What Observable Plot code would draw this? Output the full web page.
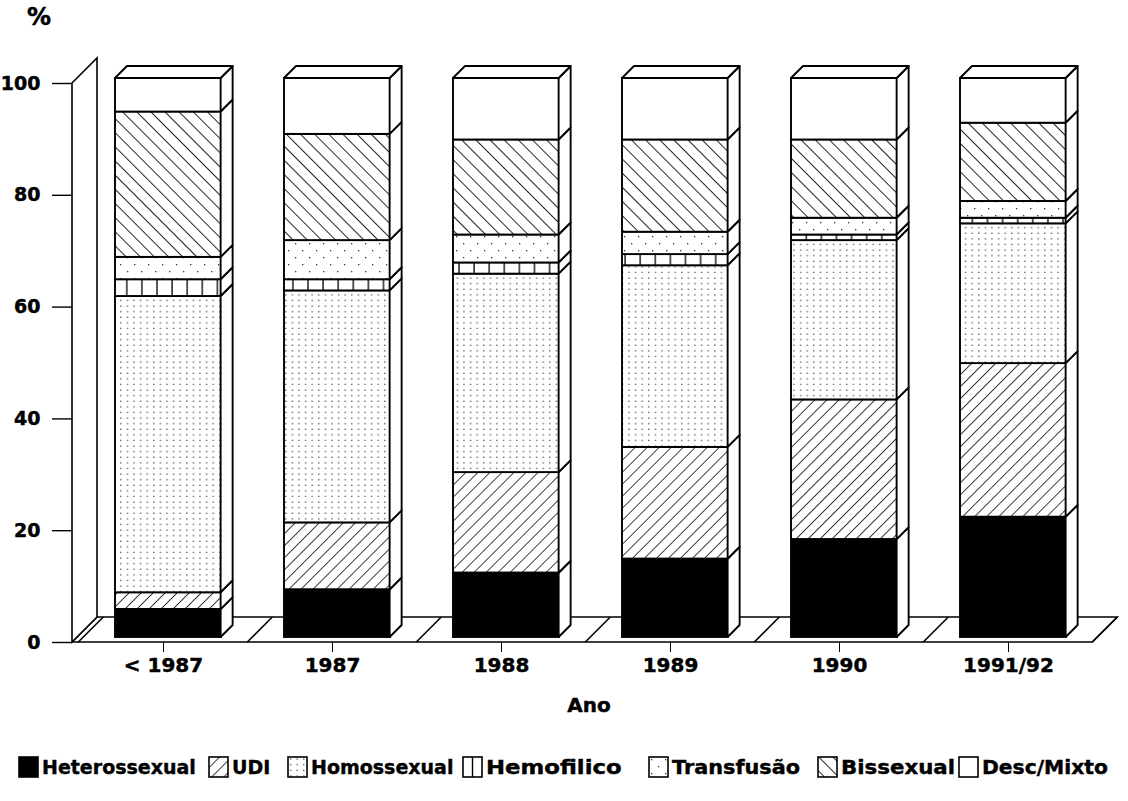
<!DOCTYPE html>
<html><head><meta charset="utf-8">
<script src="https://cdn.jsdelivr.net/npm/d3@7"></script>
<script src="https://cdn.jsdelivr.net/npm/@observablehq/plot@0.6"></script>
<style>
body{margin:0;background:#fff;font-family:"DejaVu Sans",sans-serif;font-weight:bold;color:#000;}
#wrap{position:relative;width:1128px;height:801px;overflow:hidden;}
#chart{position:absolute;left:0;top:0;}
#chart text{stroke:black;stroke-width:0.45px;}
#pct{position:absolute;left:27px;top:3px;font-size:24px;-webkit-text-stroke:0.5px black;}
#ano{position:absolute;left:0;width:1178px;text-align:center;top:693px;font-size:20px;-webkit-text-stroke:0.45px black;}
#legend{position:absolute;top:754px;left:0;width:1128px;height:30px;}
.item{position:absolute;top:0;display:flex;align-items:center;font-size:19px;height:26px;white-space:nowrap;}
.item span{-webkit-text-stroke:0.4px black;display:inline-block;transform-origin:0 50%;}
.item svg{margin-right:3px;}
</style></head><body>
<div id="wrap"><div id="chart"></div><div id="pct">%</div><div id="ano">Ano</div><div id="legend"></div></div>
<script>
const categories = ["< 1987","1987","1988","1989","1990","1991/92"];
const series = ["Heterossexual","UDI","Homossexual","Hemofilico","Transfusão","Bissexual","Desc/Mixto"];
const heterossexual = [5, 8.5, 11.5, 14, 17.5, 21.5];
const udi          = [3, 12, 18, 20, 25, 27.5];
const homossexual  = [53, 41.5, 35.5, 32.5, 28.5, 25];
const hemofilico   = [3, 2, 2, 2, 1, 1];
const transfusao   = [4, 7, 5, 4, 3, 3];
const bissexual    = [26, 19, 17, 16.5, 14, 14];
const descMixto    = [6, 10, 11, 11, 11, 8];
const yTicks = [0, 20, 40, 60, 80, 100];
const legendX = [18, 208, 287, 462, 648, 817, 958];
const legendEnd = [195, 270, 455, 630, 800, 955, 1108];

const seriesValues = [heterossexual, udi, homossexual, hemofilico, transfusao, bissexual, descMixto];
const fills = ["black","url(#p1)","url(#p2)","url(#p3)","url(#p4)","url(#p5)","white"];

// stacked rows
const rows = [];
categories.forEach((c, i) => {
  let acc = 0;
  series.forEach((s, k) => {
    const v = seriesValues[k][i];
    rows.push({cat: c, series: s, y0: acc, y1: acc + v});
    acc += v;
  });
});

const F = 5;   // bar front offset (depth position)
const B = 12;  // bar depth
const D = 25;  // floor / wall depth
const PAD = 0.375;

function defs() {
  const g = d3.create("svg:g");
  const df = g.append("defs");
  // UDI  "/"
  df.append("pattern").attr("id","p1").attr("patternUnits","userSpaceOnUse")
    .attr("width",8.5).attr("height",8.5).attr("patternTransform","rotate(45)")
    .append("line").attr("x1",0).attr("y1",-2).attr("x2",0).attr("y2",11)
    .attr("stroke","black").attr("stroke-width",1.5);
  // Homossexual fine dots
  const p2 = df.append("pattern").attr("id","p2").attr("patternUnits","userSpaceOnUse")
    .attr("width",6.6).attr("height",5.6);
  p2.append("rect").attr("width",6.6).attr("height",5.6).attr("fill","white");
  p2.append("rect").attr("x",3).attr("y",2.5).attr("width",1.2).attr("height",1.2).attr("fill","#333");
  // Hemofilico vertical lines
  const p3 = df.append("pattern").attr("id","p3").attr("patternUnits","userSpaceOnUse")
    .attr("width",15.1).attr("height",10).attr("x",0);
  p3.append("rect").attr("width",15.1).attr("height",10).attr("fill","white");
  p3.append("line").attr("x1",1).attr("x2",1).attr("y1",0).attr("y2",10).attr("stroke","black").attr("stroke-width",1.3);
  // Transfusao sparse dots
  const p4 = df.append("pattern").attr("id","p4").attr("patternUnits","userSpaceOnUse")
    .attr("width",14).attr("height",14);
  p4.append("rect").attr("width",14).attr("height",14).attr("fill","white");
  p4.append("rect").attr("x",3).attr("y",3).attr("width",1.3).attr("height",1.3).attr("fill","#333");
  p4.append("rect").attr("x",10).attr("y",10).attr("width",1.3).attr("height",1.3).attr("fill","#333");
  // Bissexual "\"
  const p5 = df.append("pattern").attr("id","p5").attr("patternUnits","userSpaceOnUse")
    .attr("width",10).attr("height",10).attr("patternTransform","rotate(-45)");
  p5.append("rect").attr("x",-1).attr("y",-1).attr("width",12).attr("height",12).attr("fill","white");
  p5.append("line").attr("x1",0).attr("y1",-2).attr("x2",0).attr("y2",12)
    .attr("stroke","black").attr("stroke-width",1.7);
  // legend-only Hemofilico swatch pattern (line centred)
  const l3 = df.append("pattern").attr("id","l3").attr("patternUnits","userSpaceOnUse")
    .attr("width",40).attr("height",40);
  l3.append("rect").attr("width",40).attr("height",40).attr("fill","white");
  l3.append("line").attr("x1",10.5).attr("x2",10.5).attr("y1",0).attr("y2",40).attr("stroke","black").attr("stroke-width",1.4);
  return g.node();
}

function geom(x) {
  const step = x(categories[1]) - x(categories[0]);
  return {step, bw: step * (1 - PAD)};
}

function floorWall(index, scales, values, dims) {
  const {x, y} = scales;
  const {step} = geom(x);
  const y0 = y(0), yT = y(100);
  const xL = dims.marginLeft;
  const seps = categories.map(c => x(c) - step * PAD / 2);
  seps.push(x(categories[categories.length - 1]) + step - step * PAD / 2);
  const xE = seps[seps.length - 1];
  const g = d3.create("svg:g").attr("stroke","black").attr("stroke-width",1.6).attr("fill","white").attr("stroke-linejoin","miter");
  g.append("path").attr("d", `M${xL},${y0}L${xE},${y0}L${xE + D},${y0 - D}L${xL + D},${y0 - D}Z`);
  g.append("path").attr("d", `M${xL},${y0}L${xL},${yT}L${xL + D},${yT - D}L${xL + D},${y0 - D}Z`);
  seps.forEach(s => g.append("line").attr("x1", s).attr("y1", y0).attr("x2", s + D).attr("y2", y0 - D));
  return g.node();
}

function faces(index, scales) {
  const {x, y} = scales;
  const {bw} = geom(x);
  const g = d3.create("svg:g").attr("stroke","black").attr("stroke-width",1.9).attr("fill","white").attr("stroke-linejoin","round");
  for (const c of categories) {
    const xl = x(c) + F, xr = xl + bw;
    const segs = rows.filter(r => r.cat === c);
    for (const s of segs) {
      const yb = y(s.y0) - F, yt = y(s.y1) - F;
      g.append("path").attr("d", `M${xr},${yb}L${xr + B},${yb - B}L${xr + B},${yt - B}L${xr},${yt}Z`);
    }
    const ytop = y(d3.max(segs, s => s.y1)) - F;
    g.append("path").attr("d", `M${xl},${ytop}L${xl + B},${ytop - B}L${xr + B},${ytop - B}L${xr},${ytop}Z`);
  }
  return g.node();
}

const chart = Plot.plot({
  width: 1128,
  height: 735,
  marginLeft: 72,
  marginBottom: 93,
  marginTop: 50,
  marginRight: 10,
  style: {fontFamily: "DejaVu Sans", fontWeight: "bold", color: "black", background: "white", overflow: "visible"},
  x: {type: "band", domain: categories, range: [77, 1094], paddingInner: PAD, paddingOuter: PAD / 2, label: null},
  y: {domain: [0, 100], range: [642, 83], label: null},
  color: {type: "ordinal", domain: series, range: fills},
  marks: [
    defs,
    floorWall,
    Plot.barY(rows, {x: "cat", y1: "y0", y2: "y1", fill: "series", stroke: "black", strokeWidth: 1.9, dx: F, dy: -F}),
    faces,
    Plot.axisY({ticks: yTicks, tickSize: 20, tickPadding: 12, fontSize: 19, fontWeight: "bold", strokeWidth: 1.4, label: null}),
    Plot.axisX({tickSize: 10, tickPadding: 5, fontSize: 20, fontWeight: "bold", strokeWidth: 1, label: null})
  ]
});
document.getElementById("chart").appendChild(chart);

// legend
const leg = document.getElementById("legend");
series.forEach((s, k) => {
  const item = document.createElement("div");
  item.className = "item";
  item.style.left = legendX[k] + "px";
  const f = k === 3 ? "url(#l3)" : fills[k];
  item.innerHTML = `<svg width="21" height="22"><rect x="1" y="1" width="19" height="20" fill="${f}" stroke="black" stroke-width="1.6"/></svg><span>${s}</span>`;
  leg.appendChild(item);
  const span = item.querySelector("span");
  const r = span.getBoundingClientRect();
  const target = legendEnd[k] - r.left;
  if (target > r.width + 2) {
    const sx = Math.min(1.2, target / r.width);
    span.style.transform = `scaleX(${sx.toFixed(3)})`;
  }
});
</script>
</body></html>
